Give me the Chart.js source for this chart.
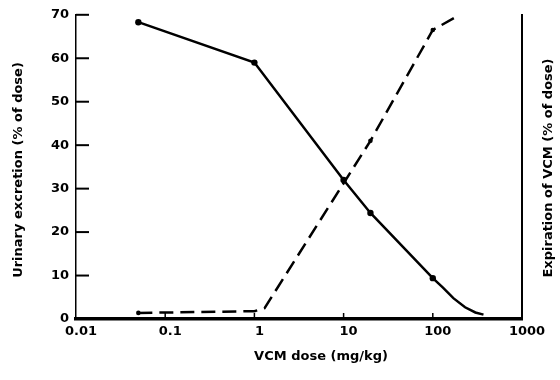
<!DOCTYPE html>
<html>
<head>
<meta charset="utf-8">
<script src="https://cdn.jsdelivr.net/npm/chart.js@4.4.1/dist/chart.umd.min.js"></script>
<style>
  html, body { margin: 0; background: #fff; }
</style>
</head>
<body>
<canvas id="chart" width="560" height="380"></canvas>
<script>
// values
const doseTicks = [0.01, 0.1, 1, 10, 100, 1000];
const urineDose = [0.05, 1, 10, 20, 100, 130, 170, 230, 300, 370];
const urineVal = [68.3, 59, 32, 24.4, 9.4, 7.2, 4.8, 2.7, 1.5, 1];
const urineMarked = [true, true, true, true, true, false, false, false, false, false];
const expDose = [0.05, 1, 1.3, 20, 100, 200];
const expVal = [1.4, 1.8, 2.5, 41, 66.5, 70];
const expMarked = [true, false, false, true, true, false];
const pctTicks = [0, 10, 20, 30, 40, 50, 60, 70];

const xTitle = 'VCM dose (mg/kg)';
const leftTitle = 'Urinary excretion (% of dose)';
const rightTitle = 'Expiration of VCM (% of dose)';

const FONT = 'DejaVu Sans';

const pts = (xs, ys) => xs.map((x, i) => ({x: x, y: ys[i]}));

// inward tick marks + rotated titles
const decor = {
  id: 'decor',
  afterDraw(chart) {
    const c = chart.ctx, a = chart.chartArea;
    const y = chart.scales.y, x = chart.scales.x;
    c.save();
    c.strokeStyle = '#000';
    c.lineWidth = 2;
    pctTicks.forEach(v => {
      if (v === 0) return;
      const py = y.getPixelForValue(v);
      c.beginPath(); c.moveTo(a.left, py); c.lineTo(a.left + 13, py); c.stroke();
    });
    c.lineWidth = 1.5;
    doseTicks.slice(1, -1).forEach(v => {
      const px = x.getPixelForValue(v);
      c.beginPath(); c.moveTo(px, a.bottom); c.lineTo(px, a.bottom - 6); c.stroke();
    });

    c.fillStyle = '#000';
    c.font = 'bold 13px "' + FONT + '"';
    c.textAlign = 'center';
    c.textBaseline = 'middle';
    c.fillText(xTitle, 321, 357);

    c.translate(19, 170);
    c.rotate(-Math.PI / 2);
    c.fillText(leftTitle, 0, 0);
    c.restore();

    c.save();
    c.fillStyle = '#000';
    c.font = 'bold 13px "' + FONT + '"';
    c.textAlign = 'center';
    c.textBaseline = 'middle';
    c.translate(549, 168);
    c.rotate(-Math.PI / 2);
    c.fillText(rightTitle, 0, 0);
    c.restore();
  }
};

new Chart(document.getElementById('chart'), {
  type: 'scatter',
  data: {
    datasets: [
      {
        label: 'Urinary excretion',
        data: pts(urineDose, urineVal),
        showLine: true,
        borderColor: '#000',
        borderWidth: 2.5,
        tension: 0,
        pointRadius: c => urineMarked[c.dataIndex] ? 3.2 : 0,
        pointBackgroundColor: '#000',
        pointBorderWidth: 0,
        yAxisID: 'y'
      },
      {
        label: 'Expiration of VCM',
        data: pts(expDose, expVal),
        showLine: true,
        borderColor: '#000',
        borderWidth: 2.5,
        borderDash: [14, 7],
        tension: 0,
        pointRadius: c => expMarked[c.dataIndex] ? 2.3 : 0,
        pointBackgroundColor: '#000',
        pointBorderWidth: 0,
        yAxisID: 'y2'
      }
    ]
  },
  options: {
    responsive: false,
    animation: false,
    layout: { padding: { top: 14, left: 0, right: 0, bottom: 0 } },
    plugins: { legend: { display: false }, tooltip: { enabled: false } },
    scales: {
      x: {
        type: 'logarithmic',
        min: 0.01,
        max: 1000,
        afterBuildTicks: s => { s.ticks = doseTicks.map(v => ({value: v})); },
        afterFit: s => { s.height = 61; },
        ticks: {
          autoSkip: false,
          maxRotation: 0,
          padding: 5,
          labelOffset: 5,
          color: '#000',
          font: { family: FONT, weight: 'bold', size: 13 },
          callback: v => String(v)
        },
        grid: { drawOnChartArea: false, drawTicks: false },
        border: { color: '#000', width: 3.5 }
      },
      y: {
        position: 'left',
        min: 0,
        max: 70,
        afterBuildTicks: s => { s.ticks = pctTicks.map(v => ({value: v})); },
        afterFit: s => { s.width = 76; },
        ticks: {
          padding: 7,
          color: '#000',
          font: { family: FONT, weight: 'bold', size: 13 }
        },
        grid: { drawOnChartArea: false, drawTicks: false },
        border: { color: '#000', width: 1.5, dash: [5, 4] }
      },
      y2: {
        position: 'right',
        min: 0,
        max: 70,
        afterFit: s => { s.width = 38; },
        ticks: { display: false },
        grid: { drawOnChartArea: false, drawTicks: false },
        border: { color: '#000', width: 2 }
      }
    }
  },
  plugins: [decor]
});
</script>
</body>
</html>
